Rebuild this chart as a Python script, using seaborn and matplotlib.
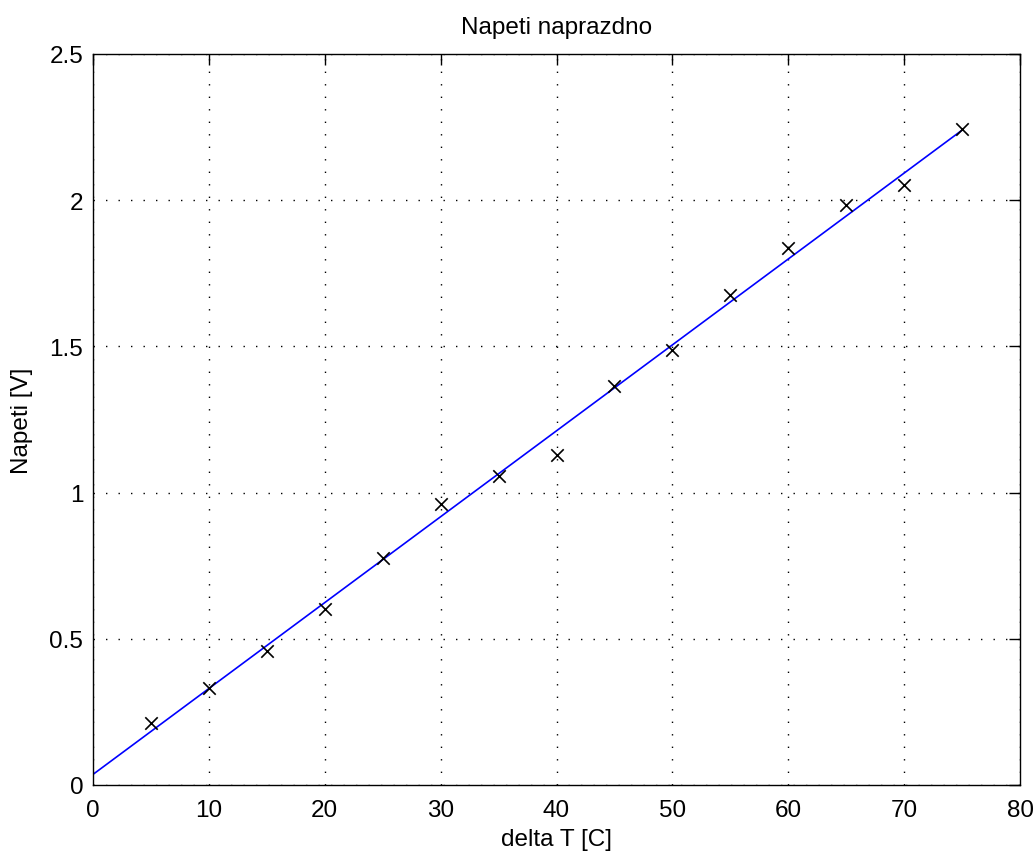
import numpy as np
import pandas as pd
import matplotlib
matplotlib.use("Agg")
import matplotlib.pyplot as plt
import seaborn as sns

delta_t = [5, 10, 15, 20, 25, 30, 35, 40, 45, 50, 55, 60, 65, 70, 75]
napeti = [0.212, 0.332, 0.459, 0.603, 0.777, 0.962, 1.058, 1.130, 1.363,
          1.486, 1.675, 1.836, 1.983, 2.051, 2.243]
x_ticks = [0, 10, 20, 30, 40, 50, 60, 70, 80]
y_ticks = [0, 0.5, 1, 1.5, 2, 2.5]
y_tick_labels = ["0", "0.5", "1", "1.5", "2", "2.5"]

sns.set_theme(style="white")
plt.rcParams['font.family'] = ['Liberation Sans', 'DejaVu Sans']

df = pd.DataFrame({"x": delta_t, "y": napeti})
slope, intercept = np.polyfit(df["x"], df["y"], 1)
fit_x = np.array([0, max(delta_t)])
fit_df = pd.DataFrame({"x": fit_x, "y": intercept + slope * fit_x})

fig = plt.figure(figsize=(10.36, 8.54), dpi=100)
ax = fig.add_axes([93/1036, 68/854, (1020-93)/1036, (786-55)/854])

sns.lineplot(data=fit_df, x="x", y="y", ax=ax, color="#0000ff", linewidth=1.2)
sns.scatterplot(data=df, x="x", y="y", ax=ax, marker="x", color="black",
                s=80, linewidth=1.2, zorder=3)

fs = 17.5
ax.set_xlim(0, 80)
ax.set_ylim(0, 2.5)
ax.set_xticks(x_ticks)
ax.set_yticks(y_ticks)
ax.set_yticklabels(y_tick_labels)
ax.grid(True, linestyle=(0, (1, 8)), color="black", linewidth=1.0)
ax.tick_params(direction="in", length=8, width=1, top=True, right=True,
               labelsize=fs, colors="black")
ax.tick_params(axis="x", pad=10)
ax.tick_params(axis="y", pad=7)
for sp in ax.spines.values():
    sp.set_color("black")
    sp.set_linewidth(1)
    sp.set_visible(True)

ax.set_xlabel("delta T [C]", fontsize=fs, color="black", labelpad=5)
ax.set_ylabel("Napeti [V]", fontsize=fs, color="black", labelpad=12)
ax.set_title("Napeti naprazdno", fontsize=fs, color="black", pad=15)

fig.savefig("out.png", dpi=100, facecolor="white")
